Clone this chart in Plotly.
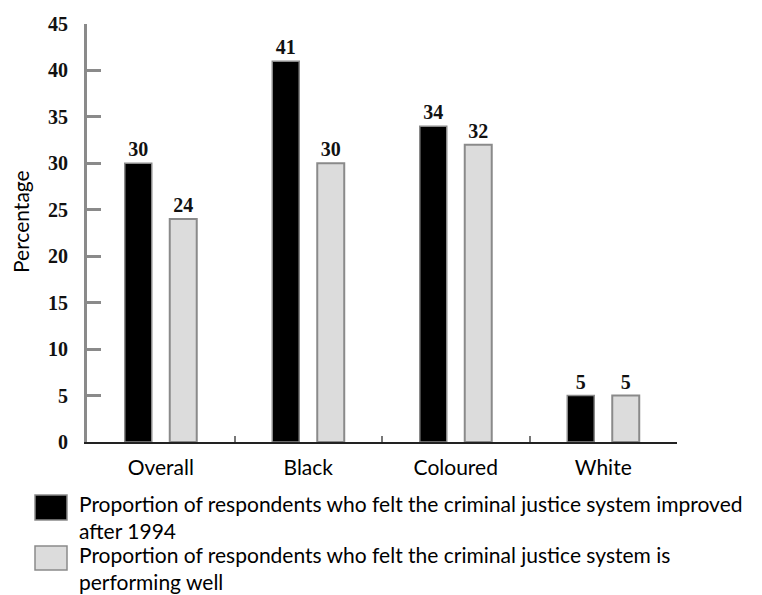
import plotly.graph_objects as go

categories = ["Overall", "Black", "Coloured", "White"]
improved = [30, 41, 34, 5]
performing_well = [24, 30, 32, 5]
series_names = [
    "Proportion of respondents who felt the criminal justice system improved<br>after 1994",
    "Proportion of respondents who felt the criminal justice system is<br>performing well",
]
y_ticks = list(range(0, 50, 5))

W, H = 762, 595
L, R, T, B = 87, 85, 24, 153
plot_w, plot_h = W - L - R, H - T - B

label_font = dict(family="Lato", size=21, color="#000000")
num_font = dict(family="Liberation Serif", size=20, color="#111111", weight="bold")

fig = go.Figure()
fig.add_trace(go.Bar(
    x=categories, y=improved, name=series_names[0],
    marker=dict(color="#000000", line=dict(color="#8a8a8a", width=1.5)),
    text=[str(v) for v in improved], textposition="outside",
    textfont=num_font, cliponaxis=False,
))
fig.add_trace(go.Bar(
    x=categories, y=performing_well, name=series_names[1],
    marker=dict(color="#dcdcdc", line=dict(color="#8a8a8a", width=2)),
    text=[str(v) for v in performing_well], textposition="outside",
    textfont=num_font, cliponaxis=False,
))


def px_x(p):
    return (p - L) / plot_w


def px_y(p):
    return (T + plot_h - p) / plot_h


# legend drawn as swatches + text below the axis
swatches = [("#000000", 495, 520), ("#dcdcdc", 546, 570)]
text_centres = [517, 568]
for (fill, y0, y1), name, cy in zip(swatches, series_names, text_centres):
    fig.add_shape(type="rect", xref="paper", yref="paper",
                  x0=px_x(35), x1=px_x(67), y0=px_y(y1), y1=px_y(y0),
                  fillcolor=fill, line=dict(color="#8a8a8a", width=1.5))
    fig.add_annotation(xref="paper", yref="paper", x=px_x(77), y=px_y(cy),
                       xanchor="left", yanchor="middle", align="left",
                       text=name, showarrow=False, font=label_font)

# y-axis title
fig.add_annotation(xref="paper", yref="paper", x=px_x(20), y=px_y(222),
                   xanchor="center", yanchor="middle", textangle=-90,
                   text="Percentage", showarrow=False, font=label_font)

fig.update_layout(
    width=W, height=H,
    margin=dict(l=L, r=R, t=T, b=B),
    plot_bgcolor="white", paper_bgcolor="white",
    barmode="group", bargap=0.39, bargroupgap=0.4,
    showlegend=False,
    xaxis=dict(
        showline=True, linecolor="#222222", linewidth=1.5,
        ticks="inside", tickson="boundaries", ticklen=6, tickwidth=2,
        tickcolor="#777777", tickfont=label_font, showgrid=False,
        range=[-0.5, 3.5], ticklabelstandoff=6,
    ),
    yaxis=dict(
        range=[0, 45], tickvals=y_ticks, showgrid=False, zeroline=False,
        showline=True, linecolor="#8a8a8a", linewidth=3,
        ticks="inside", ticklen=14, tickwidth=3, tickcolor="#8a8a8a",
        tickfont=num_font, ticklabelstandoff=12,
    ),
)

fig.write_html("out.html")
